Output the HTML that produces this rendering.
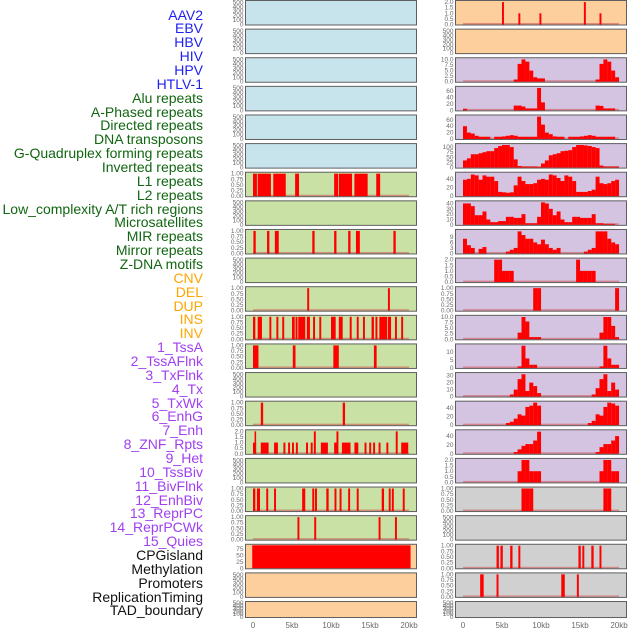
<!DOCTYPE html>
<html><head><meta charset="utf-8">
<style>
html,body{margin:0;padding:0;background:#fff;width:630px;height:630px;overflow:hidden}
#lbls{position:absolute;left:0;top:0;width:203px;height:630px}
.lb{position:absolute;right:0;font:14px "Liberation Sans",sans-serif;line-height:14px;white-space:nowrap}
svg{position:absolute;left:0;top:0}
</style></head>
<body>
<div id="lbls"></div>
<svg id="chart" width="630" height="630"></svg>
<script>
// ---- labels ----
const trackLabels = ["AAV2","EBV","HBV","HIV","HPV","HTLV-1","Alu repeats","A-Phased repeats","Directed repeats","DNA transposons","G-Quadruplex forming repeats","Inverted repeats","L1 repeats","L2 repeats","Low_complexity A/T rich regions","Microsatellites","MIR repeats","Mirror repeats","Z-DNA motifs","CNV","DEL","DUP","INS","INV","1_TssA","2_TssAFlnk","3_TxFlnk","4_Tx","5_TxWk","6_EnhG","7_Enh","8_ZNF_Rpts","9_Het","10_TssBiv","11_BivFlnk","12_EnhBiv","13_ReprPC","14_ReprPCWk","15_Quies","CPGisland","Methylation","Promoters","ReplicationTiming","TAD_boundary"];
const labelGroups = ["v","v","v","v","v","v","r","r","r","r","r","r","r","r","r","r","r","r","r","s","s","s","s","s","c","c","c","c","c","c","c","c","c","c","c","c","c","c","c","o","o","o","o","o"];

// ---- x axis ----
const xTickKb = [0,5,10,15,20];
const xTickLabels = ["0","5kb","10kb","15kb","20kb"];

// ---- middle column: intervals [startKb, endKb, value] ----
const midL1 = [[0,0.5,1],[0.6,2.3,1],[2.6,4.2,1],[5.4,5.9,1],[10.4,10.9,1],[11,12.7,1],[13,14.7,1],[15.8,16.3,1]];
const midR8 = [[0.05,0.35,1],[1.8,2.1,1],[2.8,3.3,1],[7.6,7.9,1],[10.4,10.7,1],[12.2,12.5,1],[13.2,13.7,1],[18,18.3,1]];
const midR10 = [[6.95,7.2,1],[17.3,17.55,1]];
const midR11 = [[0,0.3,1],[0.6,1.15,1],[2.1,2.35,1],[3,3.25,1],[3.75,4,1],[5,5.35,1],[5.45,5.7,1],[5.8,6.7,1],[6.9,7.3,1],[7.7,7.95,1],[8.5,8.75,1],[10,10.6,1],[11,11.5,1],[12.4,12.65,1],[13.3,13.55,1],[14.1,14.35,1],[15.2,15.5,1],[15.7,15.95,1],[16.2,17.2,1],[17.3,17.7,1],[18.2,18.45,1],[19,19.25,1]];
const midR12 = [[0,0.7,1],[5.1,5.45,1],[10.3,11,1],[15.5,15.85,1]];
const midR14 = [[1,1.3,1],[11.5,11.8,1]];
const midR15 = [[0,0.4,1],[0.2,0.4,2],[1,2,1],[2.7,3.2,1],[3.9,4.15,1],[4.5,4.75,1],[5,5.25,1],[5.5,5.75,1],[6.8,7.05,1],[7.4,7.65,1],[7.8,8.05,2],[8.7,9.6,1],[10.4,10.8,1],[10.7,10.95,2],[11.4,12.5,1],[13,13.5,1],[14.3,14.55,1],[14.9,15.15,1],[15.4,15.65,1],[16.1,16.35,1],[17.1,17.35,1],[18.3,18.55,2],[19,19.9,1]];
const midR17 = [[0,0.3,1],[0.5,0.9,1],[1.7,1.95,1],[2.7,2.95,1],[6.3,6.7,1],[7.6,7.85,1],[7.95,8.2,1],[9.4,9.7,1],[10.45,10.7,1],[11.1,11.35,1],[12.2,12.45,1],[13.3,13.55,1],[16.5,16.8,1],[17.4,17.65,1],[17.8,18.05,1],[19.2,19.45,1]];
const midR18 = [[5.7,5.95,1],[7.85,8.1,1],[16.1,16.35,1],[18.2,18.45,1]];
const midR19 = [[-0.1,20.2,90]];

// ---- right column: 0.5kb bins ----
const rAAV2 = [[5.0,5.25,2],[7.1,7.35,1],[9.8,10.05,1],[15.5,15.75,2],[17.5,17.75,1]];
const rHBV = [0,0,0,0,0,0,0,0,0,0, 0,0,0,1,8,10,9,5,2,1.5, 1.5,0,0,0,0,0,0,0,0,0, 0,0,0,0,1,8,10,9,5,2];
const rHIV = [5,0,0,0,0,0,0,0,0,0, 0,0,0,15,15,12,6,6,6,70, 25,0,0,0,0,0,0,0,0,0, 0,0,0,0,15,14,6,6,6,0];
const rAlu = [40,20,17,10,7,7,7,0,7,7, 8,10,12,10,7,7,7,7,7,70, 45,20,15,8,7,7,0,7,7,7, 8,10,12,10,7,7,7,7,7,0];
const rGQ = [35,45,65,65,70,75,80,80,95,105, 110,110,100,40,8,5,5,5,5,3, 20,35,60,65,70,80,82,85,100,110, 110,108,105,100,95,10,5,5,5,5];
const rL1 = [38,40,50,48,38,48,45,45,35,10, 9,8,9,25,45,35,28,28,30,38, 40,38,50,48,42,35,48,45,35,10, 10,10,12,15,45,30,28,30,35,38];
const rL2 = [40,40,35,18,18,25,10,5,5,7, 7,15,15,13,13,20,3,3,3,15, 42,40,30,18,25,10,5,5,15,15, 13,13,13,20,3,3,2,2,2,0];
const rMicro = [8,4.5,3,0,2.5,3.5,0,0,0,0, 0,1,2,3,12,10,8,8,6,5, 7.5,5,3,2,3,0,0,0,0,0, 0,1,2,3,12,12,12,8,6,5];
const rZDNA = [0,0,0,0,0,0,0,0,2,2, 1,1,1,0,0,0,0,0,0,0, 0,0,0,0,0,0,0,0,0,2, 1,1,1,1,0,0,0,0,0,0];
const rCNV = [0,0,0,0,0,0,0,0,0,0, 0,0,0,0,0,0,0,0,1,1, 0,0,0,0,0,0,0,0,0,0, 0,0,0,0,0,0,0,0,0,1];
const rDEL = [0,0,0,0,0,0,0,0,0,0, 0,0,0,0,3,10,8,1,1,1, 0,0,0,0,0,0,0,0,0,0, 0,0,0,0,0,3,10,10,6,1];
const rDUP = [0,0,0,0,0,0,0,0,0,0, 0,0,0,0,1,14,6,2,2,0, 0,0,0,0,0,0,0,0,0,0, 0,0,0,0,0,1,14,6,2,2];
const rINS = [0,0,0,0,0,0,0,0,0,0, 0,0,3,10,25,32,8,20,15,5, 0,0,0,0,0,0,0,0,0,0, 0,0,0,3,12,25,32,8,20,10];
const rR14 = [0,0,0,0,0,0,0,0,0,0, 0,5,8,15,25,22,42,45,52,45, 0,0,0,0,0,0,0,0,0,0, 0,0,5,10,25,22,42,52,50,45];
const rR15 = [0,0,0,0,0,0,0,0,0,0, 0,0,0,4,10,18,22,22,30,50, 0,0,0,0,0,0,0,0,0,0, 0,0,0,0,4,15,22,22,30,40];
const rR16 = [0,0,0,0,0,0,0,0,0,0, 0,0,0,0,1,2,2,1,1,1, 0,0,0,0,0,0,0,0,0,0, 0,0,0,0,0,1,2,2,1,1];
const rR17 = [0,0,0,0,0,0,0,0,0,0, 0,0,0,0,0,1,1,1,0,0, 0,0,0,0,0,0,0,0,0,0, 0,0,0,0,0,0,1,1,0,0];
const rR19 = [[4.3,4.6,1],[4.8,5.1,1],[6.05,6.35,1],[7.1,7.35,1],[14.8,15.1,1],[15.3,15.55,1],[16.45,16.75,1],[17.5,17.75,1]];
const rR20 = [[2.2,2.65,1],[4.3,4.55,1],[12.6,13.05,1],[14.6,14.85,1]];

const BLUE="#c7e3ec",GREEN="#c9e1a4",PEACH="#fdcf9d",PURP="#d5c4e1",GRAY="#d0d0d0";
const T500=[0,100,200,300,400,500],T1=[0,0.25,0.5,0.75,1],T2=[0,0.5,1,1.5,2];
// [color, ylim, ticks, fmtDecimals, kind, data]
const midPanels = [
 [BLUE,520,T500,0,null,null],[BLUE,520,T500,0,null,null],[BLUE,520,T500,0,null,null],
 [BLUE,520,T500,0,null,null],[BLUE,520,T500,0,null,null],[BLUE,520,T500,0,null,null],
 [GREEN,1.02,T1,2,"iv",midL1],[GREEN,520,T500,0,null,null],[GREEN,1.02,T1,2,"iv",midR8],
 [GREEN,520,T500,0,null,null],[GREEN,1.02,T1,2,"iv",midR10],[GREEN,1.02,T1,2,"iv",midR11],
 [GREEN,1.02,T1,2,"iv",midR12],[GREEN,520,T500,0,null,null],[GREEN,1.02,T1,2,"iv",midR14],
 [GREEN,2.05,T2,1,"iv",midR15],[GREEN,520,T500,0,null,null],[GREEN,1.02,T1,2,"iv",midR17],
 [GREEN,1.02,T1,2,"iv",midR18],[PEACH,90,[0,25,50,75],0,"iv",midR19],[PEACH,520,T500,0,null,null],
 [PEACH,520,T500,0,null,null]];
const rightPanels = [
 [PEACH,2.05,T2,1,"iv",rAAV2],[PEACH,520,T500,0,null,null],[PURP,10.3,[0,2.5,5,7.5,10],1,"bin",rHBV],
 [PURP,72,[0,20,40,60],0,"bin",rHIV],[PURP,72,[0,20,40,60],0,"bin",rAlu],[PURP,112,[0,25,50,75,100],0,"bin",rGQ],
 [PURP,53,[0,20,40],0,"bin",rL1],[PURP,43,[0,10,20,30,40],0,"bin",rL2],[PURP,12.5,[0,3,6,9],0,"bin",rMicro],
 [PURP,2.05,T2,1,"bin",rZDNA],[PURP,1.02,T1,2,"bin",rCNV],[PURP,10.3,[0,2.5,5,7.5,10],1,"bin",rDEL],
 [PURP,14.5,[0,5,10],0,"bin",rDUP],[PURP,33,[0,10,20,30],0,"bin",rINS],[PURP,53,[0,20,40],0,"bin",rR14],
 [PURP,52,[0,20,40],0,"bin",rR15],[PURP,2.05,T2,1,"bin",rR16],[GRAY,1.02,T1,2,"bin",rR17],
 [GRAY,520,T500,0,null,null],[GRAY,1.02,T1,2,"iv",rR19],[GRAY,1.02,T1,2,"iv",rR20],[GRAY,520,T500,0,null,null]];

const NS="http://www.w3.org/2000/svg";
const svg=document.getElementById("chart");
function mk(tag,attrs,parent){const e=document.createElementNS(NS,tag);for(const k in attrs)e.setAttribute(k,attrs[k]);(parent||svg).appendChild(e);return e;}

// labels
const lbls=document.getElementById("lbls");
const gcol={v:"#1f1fef",r:"#116611",s:"#ffa500",c:"#a040f0",o:"#111"};
trackLabels.forEach((t,i)=>{
  const d=document.createElement("div");
  d.className="lb";
  d.style.top=(15+13.86*i-7.5)+"px";
  d.style.color=gcol[labelGroups[i]];
  d.textContent=t;
  
  
  lbls.appendChild(d);
});

const ROW=28.62;
function drawColumn(panels,left,width,zeroX,colName){
  const xs=kb=>zeroX+kb*7.8;
  panels.forEach((p,i)=>{
    const top=0.5+ROW*i, h=(i===21?16:24.5);
    const [col,ylim,ticks,dec,kind,data]=p;
    const g=mk("g",{});
    
    
    const bg=mk("rect",{x:left,y:top,width:width,height:h,fill:col},g);
    
    
    const bot=top+h-0.5, span=h-1.5;
    const ys=v=>bot-v/ylim*span;
    if(kind){
      const bl=mk("rect",{x:xs(0),y:bot-1.5,width:xs(20)-xs(0),height:1.5,fill:"#d05050",opacity:0.55},g);
      
      
    }
    if(kind==="iv"){
      data.forEach(d=>{
        const x0=Math.max(xs(d[0]),left+0.5), x1=Math.min(xs(d[1]),left+width-0.5);
        const r=mk("rect",{x:x0,y:ys(d[2]),width:Math.max(x1-x0,1.5),height:bot-ys(d[2]),fill:"#ff0000"},g);
        
        
      });
    } else if(kind==="bin"){
      data.forEach((v,j)=>{
        if(!v)return;
        const r=mk("rect",{x:xs(j*0.5),y:ys(v),width:3.95,height:bot-ys(v),fill:"#ff0000"},g);
        
        
      });
    }
    const fr=mk("rect",{x:left,y:top,width:width,height:h,fill:"none",stroke:"#5f5f5f","stroke-width":1},g);
    
    
    ticks.forEach(t=>{
      const tx=mk("text",{x:left-2,y:ys(t)+2,"text-anchor":"end","font-size":"6.5","font-family":"Liberation Sans, sans-serif",fill:"#6a6a6a"},g);
      tx.textContent=t.toFixed(dec);
      
      
    });
  });
  xTickKb.forEach((k,i)=>{
    const tx=mk("text",{x:xs(k),y:628,"text-anchor":"middle","font-size":"8","font-family":"Liberation Sans, sans-serif",fill:"#6a6a6a"});
    tx.textContent=xTickLabels[i];
    
    
  });
}
drawColumn(midPanels,245.5,171,253,"middle");
drawColumn(rightPanels,455.5,171,463,"right");
</script>
</body></html>
